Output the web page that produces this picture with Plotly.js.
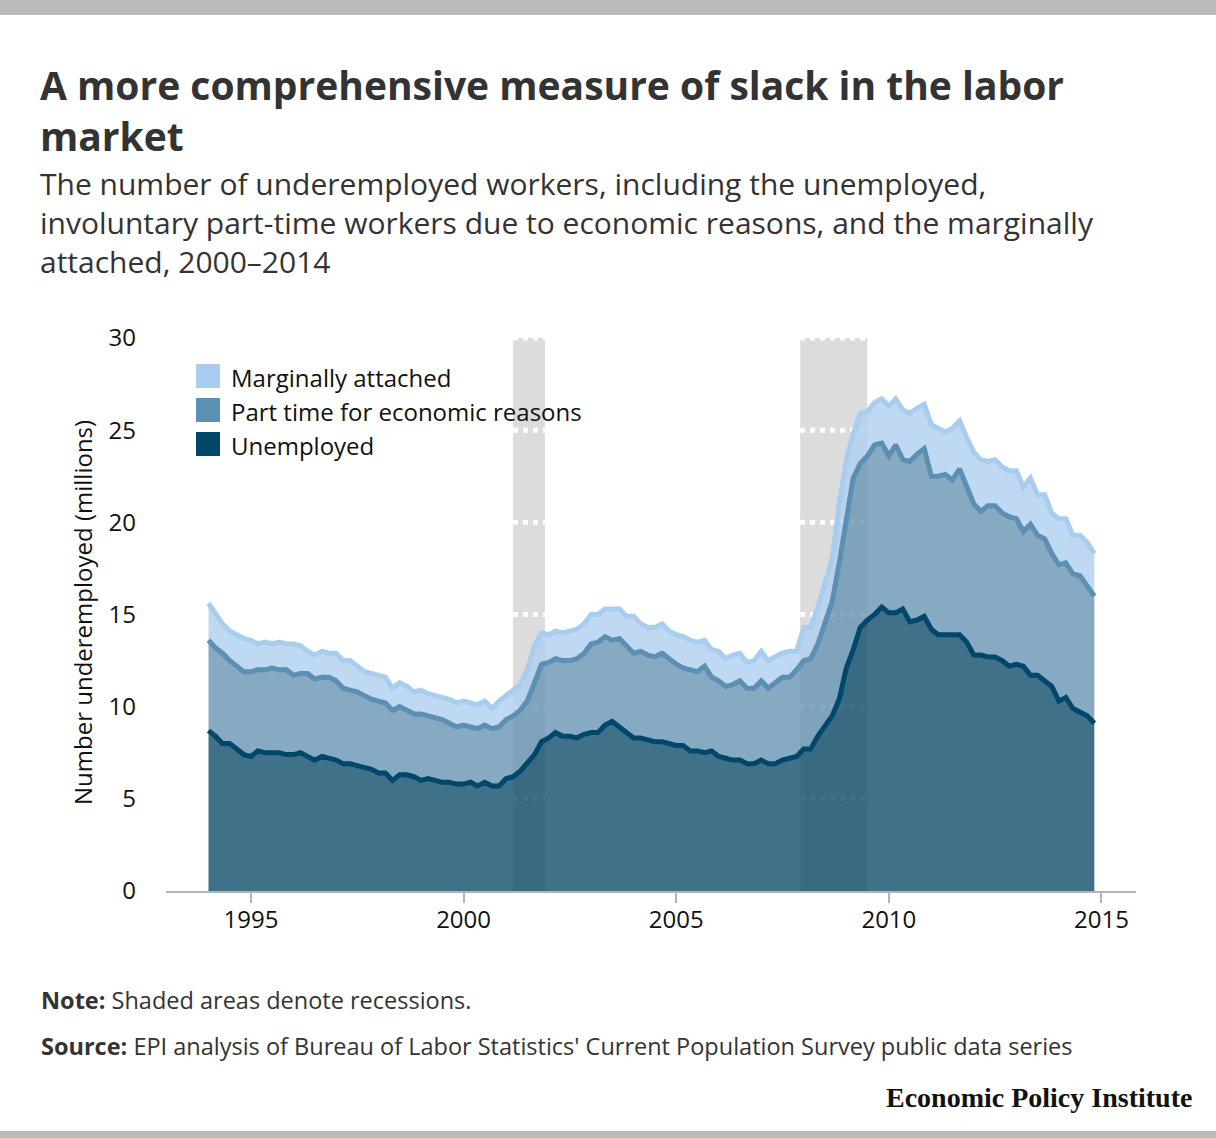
<!DOCTYPE html>
<html>
<head>
<meta charset="utf-8">
<script src="https://cdn.plot.ly/plotly-3.0.1.min.js"></script>
<style>
  body { margin: 0; background: #fff; }
  #chart { width: 1216px; height: 1138px; }
  .bar { position: absolute; left: 0; width: 1216px; background: #bababa; z-index: 10; }
</style>
</head>
<body>
<div class="bar" style="top:0;height:15px"></div>
<div id="chart"></div>
<div class="bar" style="top:1131px;height:7px"></div>
<script>
// bimonthly readings, Jan 1994 .. Nov 2014 (millions, cumulative levels of the stack)
const unemployed = [
  8.7, 8.4, 8.0, 8.0, 7.7, 7.4,
  7.3, 7.6, 7.5, 7.5, 7.5, 7.4,
  7.4, 7.5, 7.3, 7.1, 7.3, 7.2,
  7.1, 6.9, 6.9, 6.8, 6.7, 6.6,
  6.4, 6.4, 6.0, 6.3, 6.3, 6.2,
  6.0, 6.1, 6.0, 5.9, 5.9, 5.8,
  5.8, 5.9, 5.7, 5.9, 5.7, 5.7,
  6.1, 6.2, 6.5, 6.9, 7.4, 8.1,
  8.3, 8.6, 8.4, 8.4, 8.3, 8.5,
  8.6, 8.6, 9.0, 9.2, 8.9, 8.6,
  8.3, 8.3, 8.2, 8.1, 8.1, 8.0,
  7.9, 7.9, 7.6, 7.6, 7.5, 7.6,
  7.3, 7.2, 7.1, 7.1, 6.9, 6.9,
  7.1, 6.9, 6.9, 7.1, 7.2, 7.3,
  7.7, 7.7, 8.4, 8.9, 9.5, 10.4,
  12.1, 13.1, 14.3, 14.7, 15.0, 15.4,
  15.1, 15.1, 15.3, 14.6, 14.7, 14.9,
  14.2, 13.9, 13.9, 13.9, 13.9, 13.5,
  12.8, 12.8, 12.7, 12.7, 12.5, 12.2,
  12.3, 12.2, 11.7, 11.7, 11.4, 11.1,
  10.3, 10.5, 9.9, 9.7, 9.5, 9.1
];

// unemployed + part time for economic reasons
const withPartTime = [
  13.6, 13.2, 12.9, 12.5, 12.2, 11.9,
  11.9, 12.0, 12.0, 12.1, 12.0, 12.0,
  11.7, 11.8, 11.8, 11.5, 11.6, 11.6,
  11.4, 11.0, 10.9, 10.8, 10.6, 10.4,
  10.3, 10.2, 9.8, 10.0, 9.8, 9.6,
  9.6, 9.5, 9.4, 9.3, 9.1, 8.9,
  9.0, 8.9, 8.8, 9.0, 8.8, 8.9,
  9.3, 9.5, 9.8, 10.3, 11.3, 12.3,
  12.4, 12.6, 12.5, 12.5, 12.6, 12.9,
  13.4, 13.5, 13.8, 13.6, 13.7, 13.3,
  12.9, 13.0, 12.8, 12.7, 12.9, 12.6,
  12.3, 12.1, 12.0, 11.9, 12.2, 11.6,
  11.4, 11.1, 11.2, 11.4, 11.0, 11.0,
  11.4, 11.0, 11.3, 11.6, 11.6, 12.0,
  12.5, 12.6, 13.4, 14.5, 15.7, 17.8,
  20.0, 22.4, 23.2, 23.6, 24.2, 24.3,
  23.6, 24.2, 23.4, 23.3, 23.7, 24.0,
  22.5, 22.5, 22.6, 22.3, 22.9, 22.0,
  21.0, 20.6, 20.9, 20.9, 20.5, 20.3,
  20.2, 19.5, 19.9, 19.3, 19.1, 18.3,
  17.7, 17.8, 17.2, 17.1, 16.6, 16.0
];

// unemployed + part time + marginally attached
const withMarginal = [
  15.6, 15.0, 14.5, 14.1, 13.9, 13.7,
  13.6, 13.4, 13.5, 13.4, 13.5, 13.4,
  13.4, 13.3, 13.0, 12.8, 13.0, 12.9,
  12.9, 12.5, 12.5, 12.2, 11.9, 11.8,
  11.7, 11.6, 11.0, 11.3, 11.1, 10.8,
  10.9, 10.7, 10.6, 10.5, 10.4, 10.2,
  10.3, 10.2, 10.1, 10.3, 9.9, 10.3,
  10.6, 10.9, 11.2, 12.0, 13.3, 14.0,
  13.9, 14.1, 14.0, 14.1, 14.2, 14.5,
  15.0, 15.0, 15.3, 15.3, 15.3, 14.9,
  14.9, 14.5, 14.3, 14.3, 14.5, 14.1,
  13.9, 13.8, 13.6, 13.5, 13.6, 13.1,
  13.0, 12.6, 12.8, 12.9, 12.4, 12.5,
  13.0, 12.5, 12.7, 12.9, 13.0, 13.0,
  14.3, 14.3, 15.4, 16.6, 18.0, 21.0,
  23.4, 24.8, 25.9, 26.0, 26.5, 26.7,
  26.3, 26.7, 26.1, 25.9, 26.2, 26.4,
  25.3, 25.1, 24.9, 25.1, 25.5, 24.6,
  23.8, 23.4, 23.3, 23.4, 23.0, 22.8,
  22.8, 21.9, 22.4, 21.5, 21.5, 20.5,
  20.2, 20.2, 19.3, 19.3, 18.9, 18.3
];

const recessionStart = ['2001-03-01', '2007-12-01'];
const recessionEnd = ['2001-12-01', '2009-06-30'];
const yTicks = [0, 5, 10, 15, 20, 25, 30];
const xTickYears = [1995, 2000, 2005, 2010, 2015];

const months = [];
for (let k = 0; k < unemployed.length; k++) {
  const m = 2 * k;
  const yr = 1994 + Math.floor(m / 12);
  months.push(yr + '-' + String(m % 12 + 1).padStart(2, '0') + '-01');
}

const FONT = 'Open Sans, sans-serif';
const TEXT = '#333333';

// page pixel -> paper coords (plot area is x 166..1136, y 338..891)
const px = x => (x - 166) / 970;
const py = y => (891 - y) / 553;

const traces = [
  {
    x: months, y: unemployed, name: 'Unemployed',
    type: 'scatter', mode: 'lines', fill: 'tozeroy',
    fillcolor: 'rgba(15,77,107,0.8)',
    line: { color: '#00476b', width: 5 }
  },
  {
    x: months, y: withPartTime, name: 'Part time for economic reasons',
    type: 'scatter', mode: 'lines', fill: 'tonexty',
    fillcolor: 'rgba(102,149,179,0.8)',
    line: { color: '#5b8fb3', width: 5 }
  },
  {
    x: months, y: withMarginal, name: 'Marginally attached',
    type: 'scatter', mode: 'lines', fill: 'tonexty',
    fillcolor: 'rgba(175,207,239,0.8)',
    line: { color: '#a9cdef', width: 5 }
  }
];

// recession bars with white dotted lines inside them
const shapes = [];
recessionStart.forEach((s, i) => {
  shapes.push({
    type: 'rect', layer: 'below', xref: 'x', yref: 'y',
    x0: s, x1: recessionEnd[i], y0: 0, y1: 30,
    fillcolor: '#dcdcdc', line: { width: 0 }
  });
  yTicks.slice(1).forEach(v => {
    shapes.push({
      type: 'line', layer: 'below', xref: 'x', yref: 'y',
      x0: s, x1: recessionEnd[i], y0: v, y1: v,
      line: { color: '#ffffff', width: 5, dash: '5px,5px' }
    });
  });
});

// legend swatches
const legendItems = [
  { label: 'Marginally attached', color: '#a9cdef', top: 364, text: 377 },
  { label: 'Part time for economic reasons', color: '#5b8fb3', top: 398, text: 411 },
  { label: 'Unemployed', color: '#00476b', top: 432, text: 445 }
];
legendItems.forEach(it => {
  shapes.push({
    type: 'rect', layer: 'above', xref: 'paper', yref: 'paper',
    x0: px(196), x1: px(220), y0: py(it.top + 24), y1: py(it.top),
    fillcolor: it.color, line: { width: 0 }
  });
});

const annotations = legendItems.map(it => ({
  xref: 'paper', yref: 'paper', x: px(229), y: py(it.text),
  xanchor: 'left', yanchor: 'middle', showarrow: false,
  text: it.label, font: { family: FONT, size: 24, color: '#111' }
}));

function textLine(text, x, y, size, opts) {
  return Object.assign({
    xref: 'paper', yref: 'paper', x: px(x), y: py(y),
    xanchor: 'left', yanchor: 'middle', align: 'left', showarrow: false,
    text: text, font: { family: FONT, size: size, color: TEXT }
  }, opts || {});
}

annotations.push(
  textLine('<b>A more comprehensive measure of slack in the labor<br>market</b>', 38, 110, 39),
  textLine('The number of underemployed workers, including the unemployed,<br>' +
    'involuntary part-time workers due to economic reasons, and the marginally<br>' +
    'attached, 2000\u20132014', 38, 222, 30),
  textLine('Number underemployed (millions)', 82, 613, 24,
    { xanchor: 'center', textangle: -90, font: { family: FONT, size: 24, color: '#111' } }),
  textLine('<b>Note:</b> Shaded areas denote recessions.', 39, 1000, 23.5),
  textLine("<b>Source:</b> EPI analysis of Bureau of Labor Statistics' Current Population Survey public data series", 39, 1046, 23.5),
  textLine('<b>Economic Policy Institute</b>', 1194, 1097, 28,
    { xanchor: 'right', font: { family: 'Liberation Serif, serif', size: 28, color: '#111' } })
);

const layout = {
  width: 1216, height: 1138,
  margin: { l: 166, r: 80, t: 338, b: 247, pad: 0 },
  paper_bgcolor: '#ffffff', plot_bgcolor: 'rgba(0,0,0,0)',
  showlegend: false,
  font: { family: FONT, color: TEXT },
  xaxis: {
    type: 'date',
    range: ['1993-01-01', '2015-10-25'],
    tickvals: xTickYears.map(y => y + '-01-01'),
    ticktext: xTickYears.map(String),
    showgrid: false, zeroline: false,
    showline: true, linecolor: '#b3b3b3', linewidth: 2,
    ticks: 'outside', ticklen: 10, tickwidth: 2, tickcolor: '#b3b3b3',
    ticklabelstandoff: -4,
    tickfont: { family: FONT, size: 24, color: '#111' }
  },
  yaxis: {
    range: [0, 30],
    tickvals: yTicks,
    showgrid: false, zeroline: false, showline: false,
    ticks: '', ticklabelstandoff: 29,
    tickfont: { family: FONT, size: 24, color: '#111' }
  },
  shapes: shapes,
  annotations: annotations
};

Plotly.newPlot('chart', traces, layout, { displayModeBar: false, staticPlot: true });
</script>
</body>
</html>
